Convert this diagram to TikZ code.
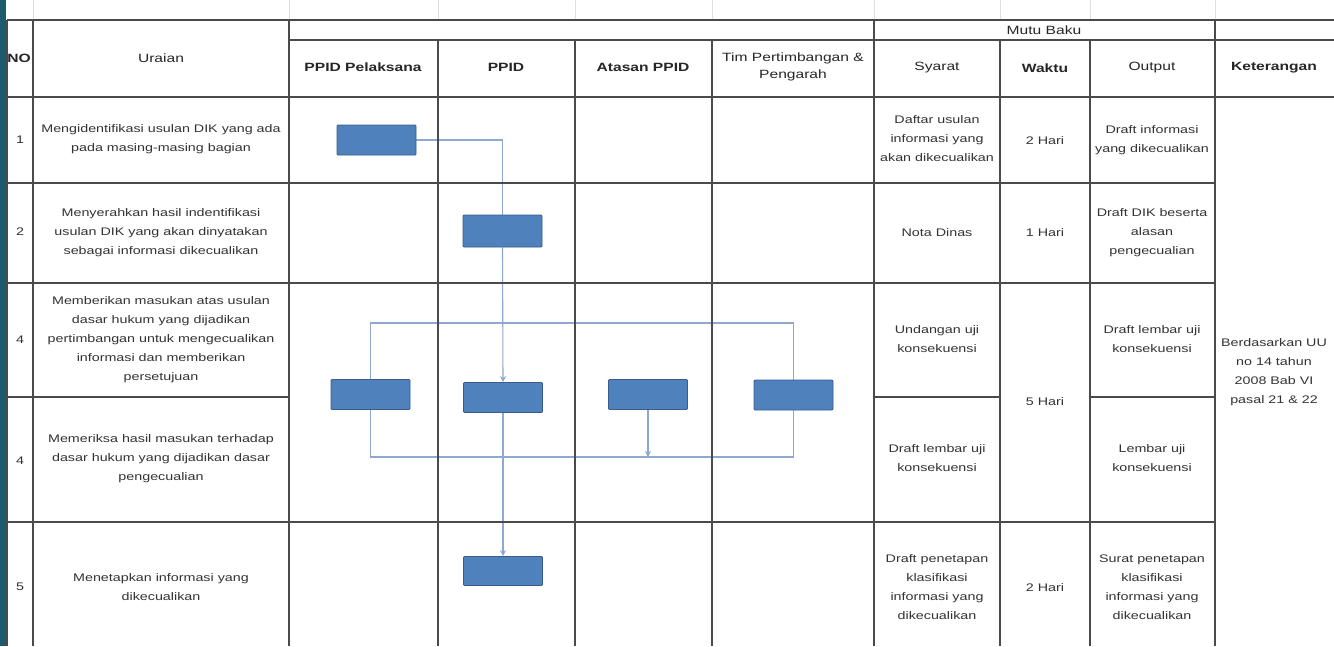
\documentclass[tikz,border=0pt]{standalone}
\usepackage{fontspec}
\setmainfont{Liberation Sans}[FakeStretch=1.3]
\usetikzlibrary{arrows.meta,backgrounds}
\definecolor{stripcol}{HTML}{1E5A6E}
\definecolor{boxfill}{HTML}{4F81BD}
\definecolor{boxline}{HTML}{385D8A}
\definecolor{conncol}{HTML}{8FA8D0}
\definecolor{gridcol}{HTML}{4A4A4A}
\begin{document}
\begin{tikzpicture}[x=1pt,y=-1pt,
  tbl/.style={draw=gridcol, line width=1.2pt},
  faint/.style={draw=gray!25, line width=0.8pt},
  blk/.style={draw=boxline, fill=boxfill, line width=0.8pt, minimum width=79pt, minimum height=30pt, inner sep=0pt, rounded corners=1pt},
  txt/.style={align=center, inner sep=0pt, font=\fontsize{11}{19}\selectfont, text=black!80},
  hdr/.style={align=center, inner sep=0pt, font=\fontsize{12}{17}\selectfont, text=black!85},
  hdrb/.style={align=center, inner sep=0pt, font=\fontsize{12}{17}\selectfont\bfseries, text=black!85},
  link/.style={draw=conncol, line width=1.1pt},
  arr/.style={link, -{Stealth[length=6pt,width=6pt]}}
]
\useasboundingbox (0,0) rectangle (1334,646);

% faint grid above table
\foreach \x in {33,289,438,575,712,874,1000,1090,1215}
  \draw[faint] (\x,0) -- (\x,20);

% table horizontal lines
\draw[tbl, line width=1.8pt] (7,20) -- (1334,20);
\draw[tbl] (289,40) -- (1334,40);
\draw[tbl] (7,97) -- (1334,97);
\draw[tbl] (7,183) -- (1215,183);
\draw[tbl] (7,283) -- (1215,283);
\draw[tbl] (7,397) -- (289,397);
\draw[tbl] (874,397) -- (1000,397);
\draw[tbl] (1090,397) -- (1215,397);
\draw[tbl] (7,522) -- (1215,522);
% vertical lines
\foreach \x in {7,33,289,874,1215}
  \draw[tbl] (\x,20) -- (\x,646);
\foreach \x in {438,575,712,1000,1090}
  \draw[tbl] (\x,40) -- (\x,646);

% header
\node[hdrb] (hno) at (19,58) {NO};
\node[hdr] (hura) at (161,58) {Uraian};
\node[hdrb] (hpel) at (363,67) {PPID Pelaksana};
\node[hdrb] (hppid) at (506,67) {PPID};
\node[hdrb] (hata) at (643,67) {Atasan PPID};
\node[hdr] (htim) at (793,67) {Tim Pertimbangan \&\\Pengarah};
\node[hdr] (hmutu) at (1044,30) {Mutu Baku};
\node[hdr] (hsya) at (937,68) {Syarat};
\node[hdrb] (hwak) at (1045,68) {Waktu};
\node[hdr] (hout) at (1152,68) {Output};
\node[hdrb] (hket) at (1274,68) {Keterangan};

% row numbers
\node[txt] (n1) at (20,140) {1};
\node[txt] (n2) at (20,232) {2};
\node[txt] (n3) at (20,340) {4};
\node[txt] (n4) at (20,461) {4};
\node[txt] (n5) at (20,587) {5};

% uraian
\node[txt] (u1) at (161,139) {Mengidentifikasi usulan DIK yang ada\\pada masing-masing bagian};
\node[txt] (u2) at (161,233) {Menyerahkan hasil indentifikasi\\usulan DIK yang akan dinyatakan\\sebagai informasi dikecualikan};
\node[txt] (u3) at (161,340) {Memberikan masukan atas usulan\\dasar hukum yang dijadikan\\pertimbangan untuk mengecualikan\\informasi dan memberikan\\persetujuan};
\node[txt] (u4) at (161,459) {Memeriksa hasil masukan terhadap\\dasar hukum yang dijadikan dasar\\pengecualian};
\node[txt] (u5) at (161,587) {Menetapkan informasi yang\\dikecualikan};

% syarat
\node[txt] (s1) at (937,139) {Daftar usulan\\informasi yang\\akan dikecualikan};
\node[txt] (s2) at (937,233) {Nota Dinas};
\node[txt] (s3) at (937,339) {Undangan uji\\konsekuensi};
\node[txt] (s4) at (937,458) {Draft lembar uji\\konsekuensi};
\node[txt] (s5) at (937,587) {Draft penetapan\\klasifikasi\\informasi yang\\dikecualikan};

% waktu
\node[txt] (w1) at (1045,141) {2 Hari};
\node[txt] (w2) at (1045,233) {1 Hari};
\node[txt] (w3) at (1045,402) {5 Hari};
\node[txt] (w5) at (1045,588) {2 Hari};

% output
\node[txt] (o1) at (1152,140) {Draft informasi\\yang dikecualikan};
\node[txt] (o2) at (1152,233) {Draft DIK beserta\\alasan\\pengecualian};
\node[txt] (o3) at (1152,339) {Draft lembar uji\\konsekuensi};
\node[txt] (o4) at (1152,458) {Lembar uji\\konsekuensi};
\node[txt] (o5) at (1152,587) {Surat penetapan\\klasifikasi\\informasi yang\\dikecualikan};

% keterangan
\node[txt] (ket) at (1274,372) {Berdasarkan UU\\no 14 tahun\\2008 Bab VI\\pasal 21 \& 22};

% flow boxes
\node[blk] (b1) at (376.5,140) {};
\node[blk, minimum height=32pt] (b2) at (502.5,231) {};
\node[blk] (b3a) at (370.5,394.5) {};
\node[blk] (b3b) at (503,397.5) {};
\node[blk] (b3c) at (648,394.5) {};
\node[blk] (b3d) at (793.5,395) {};
\node[blk, minimum height=29pt] (b5) at (503,571) {};

\coordinate (ytop) at (0,323);
\coordinate (ybot) at (0,457);

\begin{pgfonlayer}{background}
\fill[white] (0,0) rectangle (1334,646);
\fill[stripcol] (0,0) rectangle (6,646);
\draw[link] (b1.east) -| (b2.north);
\draw[arr] (b2.south) -- (b3b.north);
\draw[link] (b3a.center) -- (b3a.center |- ytop) -| (b3d.center);
\draw[link] (b3a.center) -- (b3a.center |- ybot) -| (b3d.center);
\draw[arr] (b3c.south) -- (b3c.south |- ybot);
\draw[arr] (b3b.south) -- (b5.north);
\end{pgfonlayer}
\end{tikzpicture}
\end{document}
